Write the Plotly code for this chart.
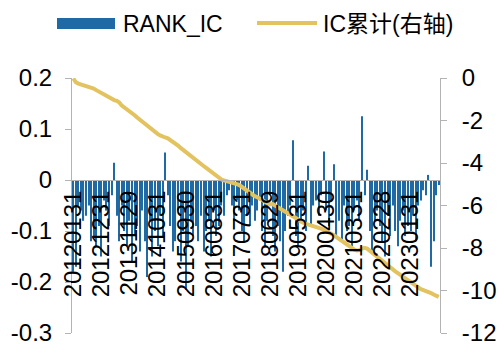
import pandas as pd
import plotly.graph_objects as go

# ---------------- data ----------------
months = pd.date_range("2012-01-01", periods=144, freq=pd.offsets.BMonthEnd())
dates = [d.strftime("%Y%m%d") for d in months]

rank_ic = [
    # 2012
    -0.18, -0.17, -0.05, -0.06, -0.08, -0.07, -0.05, -0.12, -0.11, -0.13, -0.09, -0.15,
    # 2013
    -0.04, -0.06, -0.09, -0.03, 0.034, -0.07, -0.12, -0.05, -0.10, -0.13, -0.08, -0.16,
    # 2014
    -0.11, -0.09, -0.14, -0.06, -0.12, -0.19, -0.08, -0.15, -0.10, -0.13, -0.07, -0.11,
    # 2015
    0.054, -0.03, -0.09, -0.14, -0.12, -0.06, -0.16, -0.10, -0.215, -0.13, -0.08, -0.11,
    # 2016
    -0.09, -0.12, -0.07, -0.14, -0.10, -0.08, -0.15, -0.06, -0.11, -0.09, -0.05, -0.07,
    # 2017
    -0.03, -0.02, -0.05, -0.08, -0.04, -0.06, -0.10, -0.12, -0.07, -0.09, -0.05, -0.08,
    # 2018
    -0.06, -0.04, -0.10, -0.13, -0.08, -0.03, -0.11, -0.14, -0.09, -0.12, -0.18, -0.10,
    # 2019
    -0.07, -0.05, 0.078, -0.11, -0.13, -0.08, -0.06, -0.10, 0.028, -0.09, -0.05, -0.04,
    # 2020
    -0.07, -0.03, 0.056, -0.06, -0.09, -0.04, 0.031, -0.11, -0.08, -0.12, -0.05, -0.10,
    # 2021
    -0.09, -0.13, -0.06, -0.04, -0.08, 0.125, -0.03, 0.02, -0.10, -0.14, -0.08, -0.06,
    # 2022
    -0.09, -0.12, -0.15, -0.07, -0.11, -0.05, -0.10, -0.13, -0.08, -0.06, -0.11, -0.09,
    # 2023
    -0.10, -0.07, -0.12, -0.05, -0.04, -0.02, -0.03, 0.01, -0.17, -0.12, -0.03, -0.01,
]

ic_cum = [
    -0.02, -0.20, -0.26, -0.30, -0.33, -0.36, -0.38, -0.45, -0.50, -0.57, -0.64, -0.72,
    -0.80, -0.87, -0.95, -1.00, -1.04, -1.07, -1.15, -1.30, -1.38, -1.47, -1.55, -1.65,
    -1.75, -1.86, -1.96, -2.05, -2.16, -2.27, -2.36, -2.45, -2.55, -2.63, -2.70, -2.77,
    -2.80, -2.84, -2.92, -2.99, -3.08, -3.18, -3.29, -3.39, -3.50, -3.58, -3.67, -3.77,
    -3.86, -3.95, -4.05, -4.14, -4.23, -4.33, -4.43, -4.53, -4.62, -4.71, -4.78, -4.82,
    -4.85, -4.87, -4.90, -4.94, -4.99, -5.04, -5.13, -5.24, -5.33, -5.43, -5.50, -5.56,
    -5.61, -5.66, -5.74, -5.82, -5.90, -5.95, -5.93, -6.00, -6.06, -6.13, -6.22, -6.30,
    -6.37, -6.44, -6.50, -6.58, -6.66, -6.75, -6.82, -6.86, -6.90, -6.93, -6.97, -7.00,
    -7.04, -7.09, -7.14, -7.20, -7.25, -7.32, -7.40, -7.49, -7.58, -7.68, -7.76, -7.85,
    -7.93, -8.01, -8.08, -8.12, -8.10, -8.03, -7.99, -8.03, -8.13, -8.24, -8.34, -8.43,
    -8.52, -8.63, -8.74, -8.85, -8.95, -9.02, -9.10, -9.18, -9.27, -9.35, -9.44, -9.53,
    -9.62, -9.71, -9.80, -9.88, -9.94, -9.98, -10.02, -10.06, -10.12, -10.19, -10.25, -10.30,
]

x_ticks = ["20120131", "20121231", "20131129", "20141031", "20150930", "20160831",
           "20170731", "20180629", "20190531", "20200430", "20210331", "20220228",
           "20230131"]
left_vals = [0.2, 0.1, 0, -0.1, -0.2, -0.3]
left_text = ["0.2", "0.1", "0", "-0.1", "-0.2", "-0.3"]
right_vals = [0, -2, -4, -6, -8, -10, -12]
right_text = ["0", "-2", "-4", "-6", "-8", "-10", "-12"]
series_names = ["RANK_IC", "IC累计(右轴)"]

BLUE = "#1f6aa5"
GOLD = "#e3c35f"
GRAY = "#b3b3b3"
FONT = "Liberation Sans, Arial, Noto Sans CJK SC, sans-serif"

W, H = 498, 351
ML, MR, MT, MB = 72, 58, 78, 18
PW, PH = W - ML - MR, H - MT - MB


def px(xp):
    return (xp - ML) / PW


def py(yp):
    return (H - MB - yp) / PH


fig = go.Figure()
fig.add_trace(go.Bar(x=dates, y=rank_ic, name=series_names[0], marker_color=BLUE,
                     marker_line_width=0, yaxis="y"))
fig.add_trace(go.Scatter(x=dates, y=ic_cum, name=series_names[1], mode="lines",
                         line=dict(color=GOLD, width=4), yaxis="y2"))

# legend drawn as shapes + text above the plot area
shapes = [
    dict(type="rect", xref="paper", yref="paper", x0=px(57), x1=px(115),
         y0=py(29), y1=py(18), fillcolor=BLUE, line=dict(width=0)),
    dict(type="line", xref="paper", yref="paper", x0=px(257), x1=px(317),
         y0=py(23), y1=py(23), line=dict(color=GOLD, width=4)),
]
annotations = [
    dict(text=series_names[0], xref="paper", yref="paper", x=px(121), y=py(24),
         xanchor="left", yanchor="middle", showarrow=False, font=dict(size=23)),
    dict(text=series_names[1], xref="paper", yref="paper", x=px(321), y=py(24),
         xanchor="left", yanchor="middle", showarrow=False, font=dict(size=23)),
]

fig.update_layout(
    width=W, height=H,
    margin=dict(l=ML, r=MR, t=MT, b=MB, autoexpand=False),
    paper_bgcolor="white", plot_bgcolor="white",
    font=dict(family=FONT, size=24, color="black"),
    bargap=0.55,
    showlegend=False,
    shapes=shapes, annotations=annotations,
    xaxis=dict(type="category", categoryorder="array", categoryarray=dates,
               range=[-0.5, len(dates) - 0.5], automargin=False,
               anchor="free", position=0.6,
               showline=True, linecolor=GRAY, linewidth=1,
               showgrid=False, zeroline=False, ticks="",
               tickmode="array", tickvals=x_ticks, ticktext=x_ticks,
               tickangle=-90, tickfont=dict(size=24)),
    yaxis=dict(range=[-0.3, 0.2], tickmode="array", tickvals=left_vals, ticktext=left_text,
               showline=True, linecolor=GRAY, ticks="outside", ticklen=6, tickcolor=GRAY,
               ticklabelstandoff=8, automargin=False,
               showgrid=False, zeroline=False, tickfont=dict(size=24)),
    yaxis2=dict(range=[-12, 0], tickmode="array", tickvals=right_vals, ticktext=right_text,
                overlaying="y", side="right", showline=True, linecolor=GRAY,
                ticks="outside", ticklen=6, tickcolor=GRAY, ticklabelstandoff=10,
                automargin=False,
                showgrid=False, zeroline=False, tickfont=dict(size=24)),
)

fig.write_html("out.html")
